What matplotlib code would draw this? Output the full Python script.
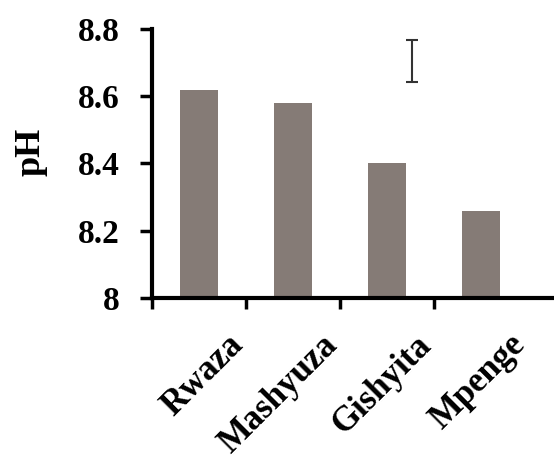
import matplotlib
matplotlib.use("Agg")
import matplotlib.pyplot as plt
from matplotlib.transforms import ScaledTranslation

# pH per site
sites = ["Rwaza", "Mashyuza", "Gishyita", "Mpenge"]
ph = [8.62, 8.58, 8.40, 8.26]

# LSD-style bar shown in the upper area
lsd_x = 2.27
lsd_center = 8.705
lsd_half = 0.062

yticks = [8.0, 8.2, 8.4, 8.6, 8.8]
ytick_labels = ["8", "8.2", "8.4", "8.6", "8.8"]

plt.rcParams["font.family"] = ["Liberation Serif", "DejaVu Serif"]
plt.rcParams["font.weight"] = "bold"

fig = plt.figure(figsize=(5.54, 4.63), dpi=100)
ax = fig.add_axes([0.2744, 0.3564, 0.7256, 0.581])

pos = list(range(len(sites)))
ax.bar(pos, ph, width=0.4, color="#857b76", zorder=2)
ax.errorbar([lsd_x], [lsd_center], yerr=[lsd_half], fmt="none",
            ecolor="#333333", elinewidth=1.5, capsize=4.5, capthick=1.5)

ax.set_ylim(8.0, 8.8)
ax.set_xlim(-0.5, 3.78)
ax.set_yticks(yticks)
ax.set_yticklabels(ytick_labels, fontsize=24, fontweight="bold")

# category labels at bar centres, tick marks between categories
ax.set_xticks(pos)
ax.set_xticklabels(sites, fontsize=25, fontweight="bold", rotation=45,
                   ha="right", va="top", rotation_mode="anchor")
ax.set_xticks([-0.5, 0.5, 1.5, 2.5], minor=True)
ax.tick_params(axis="x", which="major", length=0, pad=22)
ax.tick_params(axis="x", which="minor", length=8, width=2.5, direction="out")
ax.tick_params(axis="y", length=9, width=2.5, direction="out", pad=14)
off = ScaledTranslation(0.28, 0, fig.dpi_scale_trans)
for lab in ax.get_xticklabels():
    lab.set_transform(lab.get_transform() + off)

for s in ["top", "right"]:
    ax.spines[s].set_visible(False)
for s in ["left", "bottom"]:
    ax.spines[s].set_linewidth(3)

fig.text(31 / 554, 1 - 152 / 463, "pH", rotation=90, ha="center", va="center",
         fontsize=26, fontweight="bold")

fig.savefig("out.png", dpi=100)
